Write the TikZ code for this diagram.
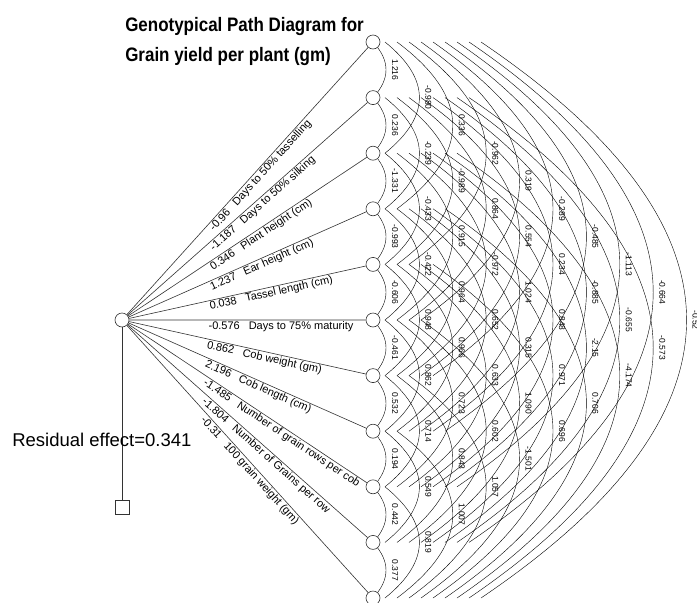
\documentclass[tikz,border=0pt]{standalone}
\usepackage{fontspec}
\setmainfont{Liberation Sans}
\newfontfamily\titlefont{Liberation Sans}[FakeStretch=0.87]
\usetikzlibrary{calc,backgrounds}
\begin{document}
\begin{tikzpicture}[x=1pt,y=-1pt,line width=0.6pt,draw=black!80,
  var/.style={circle,draw,fill=white,minimum size=14pt,inner sep=0pt},
  lbl/.style={font=\fontsize{11}{12}\selectfont,sloped,anchor=north west,inner sep=1pt,pos=0.33},
  cor/.style={font=\fontsize{8.5}{10}\selectfont,rotate=-90,inner sep=0pt}]
\useasboundingbox (0,0) rectangle (697,603);
\node[anchor=north west,align=left,inner sep=0pt,font=\titlefont\bfseries\fontsize{19.5}{30}\selectfont] (title) at (125,17)
  {Genotypical Path Diagram for\\Grain yield per plant (gm)};
\node[var] (y) at (122,320) {};
\foreach \k in {1,...,11}
  \node[var] (v\k) at (373,{42+55.6*(\k-1)}) {};
\node[draw,fill=white,minimum size=14pt,inner sep=0pt] (e) at (122,507) {};
\draw (y) -- (e);
\node[anchor=base west,inner sep=0pt,font=\fontsize{18.5}{20}\selectfont] (res) at (12,446) {Residual effect=0.341};
\foreach \k/\p/\t in {1/-0.96/Days to 50\% tasselling,2/-1.187/Days to 50\% silking,
  3/0.346/Plant height (cm),4/1.237/Ear height (cm),5/0.038/Tassel length (cm),
  6/-0.576/Days to 75\% maturity,7/0.862/Cob weight (gm),8/2.196/Cob length (cm),
  9/-1.485/Number of grain rows per cob,10/-1.804/Number of Grains per row,
  11/-0.31/100 grain weight (gm)}
  \draw (y) -- node[lbl] {\p\hspace{9pt}\t} (v\k);
\begin{scope}[on background layer]
\foreach \i/\j/\r in {1/2/1.216,2/3/0.236,3/4/-1.331,4/5/-0.993,5/6/-0.606,6/7/-0.461,
  7/8/0.532,8/9/0.194,9/10/0.442,10/11/0.377,
  1/3/-0.980,2/4/-0.239,3/5/-0.433,4/6/-0.422,5/7/0.948,6/8/0.862,7/9/0.714,8/10/0.549,9/11/0.819,
  1/4/0.336,2/5/-0.989,3/6/0.915,4/7/0.964,5/8/0.966,6/9/0.723,7/10/0.843,8/11/1.007,
  1/5/-0.962,2/6/0.864,3/7/-0.972,4/8/0.652,5/9/0.633,6/10/0.602,7/11/1.057,
  1/6/0.319,2/7/0.554,3/8/1.024,4/9/0.315,5/10/1.090,6/11/-1.501,
  1/7/-0.289,2/8/0.234,3/9/0.848,4/10/0.971,5/11/0.696,
  1/8/-0.485,2/9/-0.885,3/10/-2.15,4/11/0.706,
  1/9/-1.113,2/10/-0.655,3/11/-4.174,
  1/10/-0.664,2/11/-0.573,
  1/11/-0.52}{
  \pgfmathsetmacro\d{\j-\i}
  \pgfmathsetmacro\o{12*(\d-1)}
  \pgfmathsetmacro\a{13+33.4*(\d-1)}
  \pgfmathsetmacro\cx{\o+4/3*(\a-\o)}
  \pgfmathsetmacro\cy{2/3*27.8*\d}
  \pgfmathsetmacro\lx{\a+9}
  \draw ($(v\i)+(\o,0)$) .. controls ($(v\i)+(\cx,\cy)$) and ($(v\j)+(\cx,-\cy)$) .. ($(v\j)+(\o,0)$);
  \node[cor] (r\i-\j) at ($(v\i)!0.5!(v\j)+(\lx,0)$) {\r};
}
\end{scope}
\end{tikzpicture}
\end{document}
